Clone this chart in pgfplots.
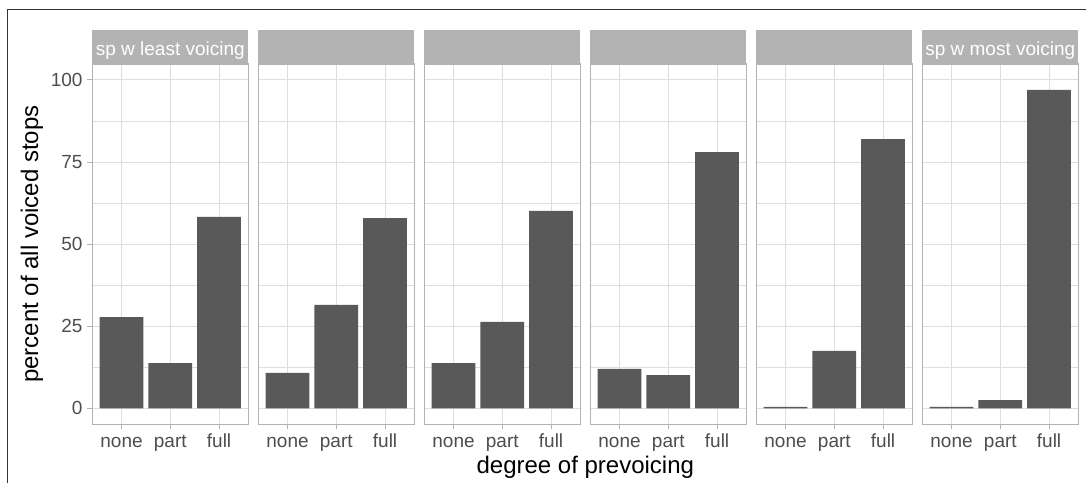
\documentclass[border=0pt]{standalone}
\usepackage{pgfplots}
\pgfplotsset{compat=1.18}
\usepackage{fontspec}
\setmainfont{Liberation Sans}
\definecolor{barfill}{HTML}{595959}
\definecolor{stripfill}{HTML}{B3B3B3}
\definecolor{gridc}{HTML}{DEDEDE}
\definecolor{ticklab}{HTML}{4D4D4D}
\definecolor{framec}{HTML}{333333}
\pgfplotsset{
  facet/.style={
    at={(#1,58.7bp)}, anchor=south west,
    width=156bp, height=360.3bp, scale only axis,
    xmin=0.4, xmax=3.6, ymin=-4.87, ymax=104.87,
    xtick={1,2,3}, xticklabels={none,part,full},
    ytick={0,25,50,75,100}, minor ytick={12.5,37.5,62.5,87.5},
    grid=both,
    major grid style={gridc, line width=1bp},
    minor grid style={gridc, line width=0.7bp},
    axis line style={stripfill, line width=1.2bp},
    tick align=outside, major tick length=5bp, minor tick length=0pt,
    every tick/.style={stripfill, line width=1bp},
    xtick pos=left, ytick pos=left,
    ticklabel style={font=\fontsize{19bp}{22bp}\selectfont, text=ticklab},
    xticklabel style={text height=14bp, text depth=4bp, inner sep=0pt, yshift=-3.6bp},
    yticklabel style={inner sep=0pt, anchor=east, xshift=-4.6bp},
    /pgf/number format/assume math mode=true,
    ybar, bar width=0.9,
  },
  inner/.style={yticklabels={}, ytick style={draw=none}},
}
\begin{document}
\begin{tikzpicture}
\useasboundingbox (0,0) rectangle (1086bp,483bp);
\begin{axis}[facet=92.3bp]
\addplot[fill=barfill, draw=none] coordinates {(1,27.8) (2,13.8) (3,58.3)};
\end{axis}
\begin{axis}[facet=258.3bp, inner]
\addplot[fill=barfill, draw=none] coordinates {(1,10.8) (2,31.5) (3,57.9)};
\end{axis}
\begin{axis}[facet=424.3bp, inner]
\addplot[fill=barfill, draw=none] coordinates {(1,13.8) (2,26.3) (3,60.1)};
\end{axis}
\begin{axis}[facet=590.3bp, inner]
\addplot[fill=barfill, draw=none] coordinates {(1,12.0) (2,10.1) (3,78.0)};
\end{axis}
\begin{axis}[facet=756.3bp, inner]
\addplot[fill=barfill, draw=none] coordinates {(1,0.4) (2,17.5) (3,82.0)};
\end{axis}
\begin{axis}[facet=922.3bp, inner]
\addplot[fill=barfill, draw=none] coordinates {(1,0.4) (2,2.5) (3,97.0)};
\end{axis}
\foreach \x in {92.3,258.3,424.3,590.3,756.3,922.3}{
  \fill[stripfill] (\x bp,419bp) rectangle ++(156bp,34bp);
}
\node[anchor=base, text=white, inner sep=0pt, font=\fontsize{19bp}{22bp}\selectfont] at (170.3bp,427.5bp) {sp w least voicing};
\node[anchor=base, text=white, inner sep=0pt, font=\fontsize{19bp}{22bp}\selectfont] at (1000.3bp,427.5bp) {sp w most voicing};
\node[anchor=base, inner sep=0pt, font=\fontsize{24bp}{28bp}\selectfont] at (585.3bp,10bp) {degree of prevoicing};
\node[anchor=base, rotate=90, inner sep=0pt, font=\fontsize{24bp}{28bp}\selectfont] at (38bp,238.9bp) {percent of all voiced stops};
\draw[framec, line width=1.3bp] (7.5bp,0) -- (7.5bp,473.3bp) -- (1086bp,473.3bp);
\end{tikzpicture}
\end{document}
